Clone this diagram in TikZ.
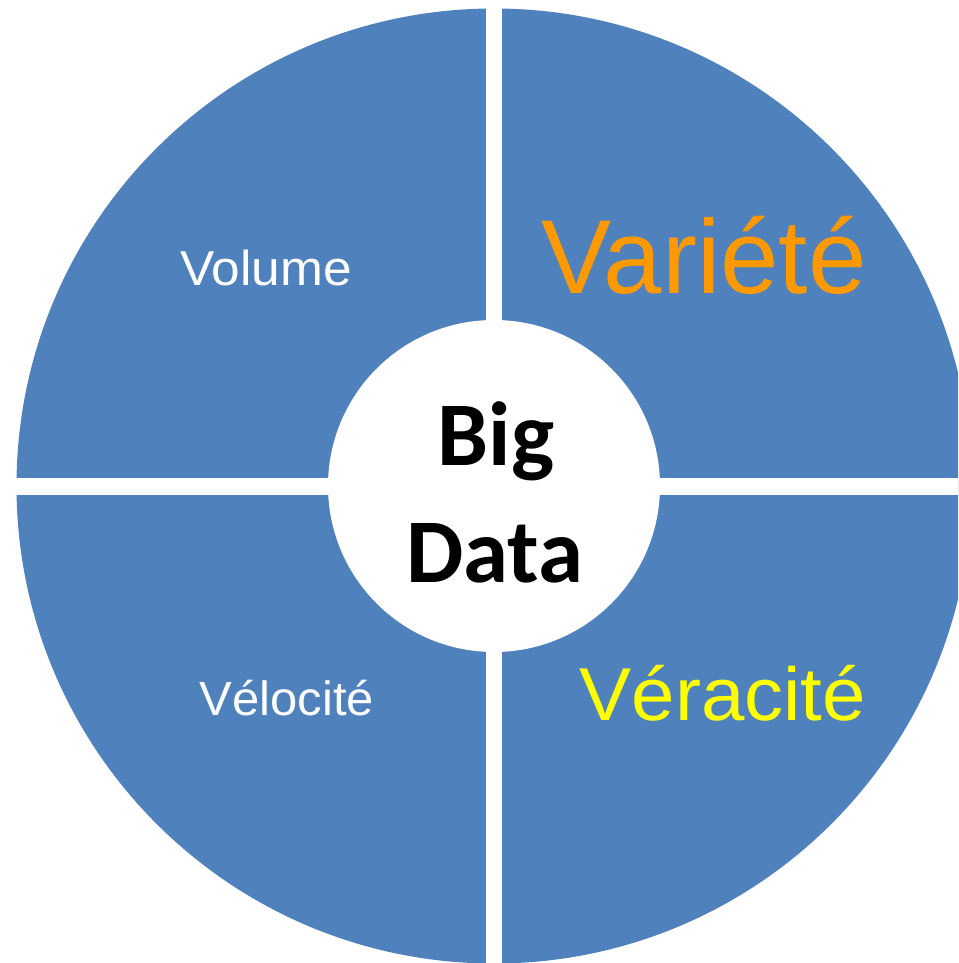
\documentclass[tikz,border=0pt]{standalone}
\usepackage{fontspec}
\setmainfont{Liberation Sans}
\newfontfamily\calibri{Carlito}
\definecolor{quadblue}{HTML}{4F81BD}
\definecolor{labelorange}{HTML}{FF9900}
\definecolor{labelyellow}{HTML}{FFFF00}
\tikzset{
  vlabel/.style={anchor=base, inner sep=0pt},
  coretext/.style={anchor=base, inner sep=0pt, font=\calibri\bfseries\fontsize{91}{110}\selectfont}
}
\begin{document}
\begin{tikzpicture}[x=1pt,y=-1pt]
            % Frame
            \useasboundingbox (0,0) rectangle (958,963);
            \clip (0,0) rectangle (958,963);

            % Outer disc and the white gaps between quadrants
            \fill[quadblue] (494,486) circle (477.5);
            \fill[white] (486,0) rectangle (502,963);
            \fill[white] (0,478) rectangle (958,495);

            % Centre
            \node[circle, fill=white, minimum size=332pt, inner sep=0pt] (core) at (494,486) {};
            \node[coretext] (big) at (496,465) {Big};
            \node[coretext] (data) at (495,582) {Data};

            % Quadrant labels
            \node[vlabel, white, font=\fontsize{49}{58}\selectfont, xscale=1.05] (volume) at (266,285) {Volume};
            \node[vlabel, labelorange, font=\fontsize{105}{120}\selectfont] (variete) at (704,293) {Variété};
            \node[vlabel, white, font=\fontsize{48}{56}\selectfont, xscale=1.02] (velocite) at (287,715) {Vélocité};
            \node[vlabel, labelyellow, font=\fontsize{75}{90}\selectfont, xscale=1.04] (veracite) at (723,720) {Véracité};
          \end{tikzpicture}
\end{document}
